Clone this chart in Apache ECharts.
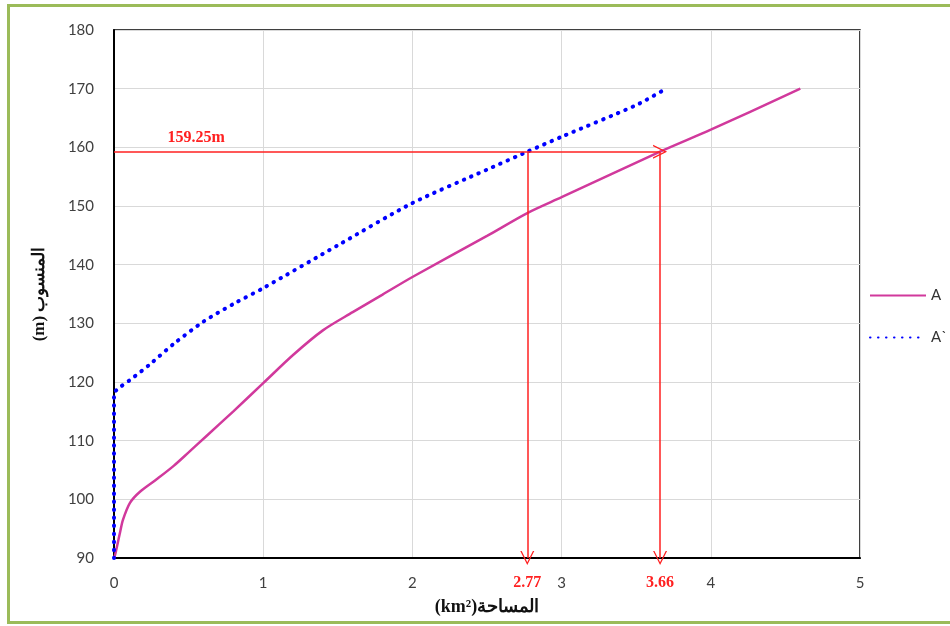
<!DOCTYPE html>
<html>
<head>
<meta charset="utf-8">
<script src="https://cdn.jsdelivr.net/npm/echarts@6/dist/echarts.min.js"></script>
<style>
  html, body { margin: 0; padding: 0; background: #fff; }
  #chart { width: 950px; height: 626px; }
</style>
</head>
<body>
<div id="chart"></div>
<script>
// area (km2) vs level (m) for the two curves
const aX = [0, 0.007, 0.04, 0.06, 0.107, 0.174, 0.29, 0.4, 0.5, 0.62, 0.8, 1.0, 1.2, 1.4, 1.6, 1.8, 2.0, 2.5, 2.77, 3.0, 3.66, 4.0, 4.6];
const aY = [90, 90.5, 94.3, 96.5, 99.4, 101.3, 103.5, 105.7, 108, 110.8, 115, 119.8, 124.6, 128.8, 131.9, 134.9, 137.9, 144.9, 148.8, 151.5, 159.25, 163, 170];
const bX = [0, 0, 0.05, 0.1, 0.24, 0.4, 0.6, 0.8, 1.0, 1.5, 2.0, 2.5, 2.77, 3.0, 3.5, 3.7];
const bY = [90, 118, 119.3, 120.2, 123, 126.5, 130.3, 133.3, 136, 143.3, 150.5, 156.2, 159.25, 161.8, 167.2, 170];
const seriesNames = ["A", "A`"];

// reading off the two curves at the same level
const level = 159.25;
const readA = 3.66;
const readB = 2.77;

const xTicks = { min: 0, max: 5, interval: 1 };
const yTicks = { min: 90, max: 180, interval: 10 };

const red = "#FF2020";
const chevron = "path://M0,10 L5,0 L10,10 L9,10 L5,2 L1,10 Z";
const tickFont = { color: "#404040", fontSize: 15, fontFamily: "Lato" };

const zip = (xs, ys) => xs.map((x, i) => [x, ys[i]]);

const ch = echarts.init(document.getElementById("chart"));
ch.setOption({
  animation: false,
  backgroundColor: "#fff",
  grid: { left: 114, right: 90, top: 30, bottom: 68, show: true, borderColor: "#000", borderWidth: 1.5 },
  legend: {
    orient: "vertical",
    left: 864,
    top: 283,
    itemWidth: 56,
    itemHeight: 12,
    itemGap: 27,
    itemStyle: { opacity: 0 },
    textStyle: { color: "#333", fontSize: 15, fontFamily: "Lato" },
    data: seriesNames,
  },
  xAxis: {
    type: "value",
    ...xTicks,
    name: "(km²)المساحة",
    nameLocation: "middle",
    nameGap: 40,
    nameTextStyle: { color: "#111", fontSize: 18, fontWeight: "bold", fontFamily: "Liberation Serif" },
    axisLine: { lineStyle: { color: "#000", width: 2 } },
    axisTick: { show: false },
    axisLabel: { ...tickFont, margin: 18 },
    splitLine: { lineStyle: { color: "#D9D9D9", width: 1 } },
  },
  yAxis: {
    type: "value",
    ...yTicks,
    name: "(m) المنسوب",
    nameLocation: "middle",
    nameGap: 66,
    nameRotate: 90,
    nameTextStyle: { color: "#111", fontSize: 17, fontWeight: "bold", fontFamily: "Liberation Serif" },
    axisLine: { lineStyle: { color: "#000", width: 2 } },
    axisTick: { show: false },
    axisLabel: { ...tickFont, margin: 20 },
    splitLine: { lineStyle: { color: "#D9D9D9", width: 1 } },
  },
  series: [
    {
      name: seriesNames[0],
      type: "line",
      data: zip(aX, aY),
      smooth: 0.3,
      symbol: "none",
      lineStyle: { color: "#D1399C", width: 2.5 },
      itemStyle: { color: "#D1399C" },
      z: 3,
      markLine: {
        silent: true,
        symbol: ["none", chevron],
        symbolSize: [14, 14],
        lineStyle: { color: red, width: 1.5, type: "solid" },
        label: { show: false },
        data: [
          [{ coord: [0, level] }, { coord: [readA, level] }],
          [{ coord: [readA, level] }, { coord: [readA, yTicks.min] }],
          [{ coord: [readB, level] }, { coord: [readB, yTicks.min] }],
        ],
      },
      markPoint: {
        silent: true,
        symbol: "circle",
        symbolSize: 0,
        label: {
          show: true,
          color: red,
          fontSize: 16,
          fontWeight: "bold",
          fontFamily: "Liberation Serif",
          formatter: (p) => p.name,
        },
        data: [
          { name: level.toFixed(2) + "m", coord: [0.55, level], label: { offset: [0, -14] } },
          { name: readB.toFixed(2), coord: [readB, yTicks.min], label: { offset: [0, 25] } },
          { name: readA.toFixed(2), coord: [readA, yTicks.min], label: { offset: [0, 25] } },
        ],
      },
    },
    {
      name: seriesNames[1],
      type: "line",
      data: zip(bX, bY),
      smooth: 0.25,
      symbol: "none",
      lineStyle: { color: "#0000FF", width: 4, type: [0.5, 7.5], cap: "round" },
      itemStyle: { color: "#0000FF" },
      z: 4,
    },
  ],
  graphic: [
    {
      type: "rect",
      silent: true,
      z: 100,
      shape: { x: 8.5, y: 5.5, width: 980, height: 617 },
      style: { fill: null, stroke: "#9BBB59", lineWidth: 3 },
    },
  ],
});
</script>
</body>
</html>
